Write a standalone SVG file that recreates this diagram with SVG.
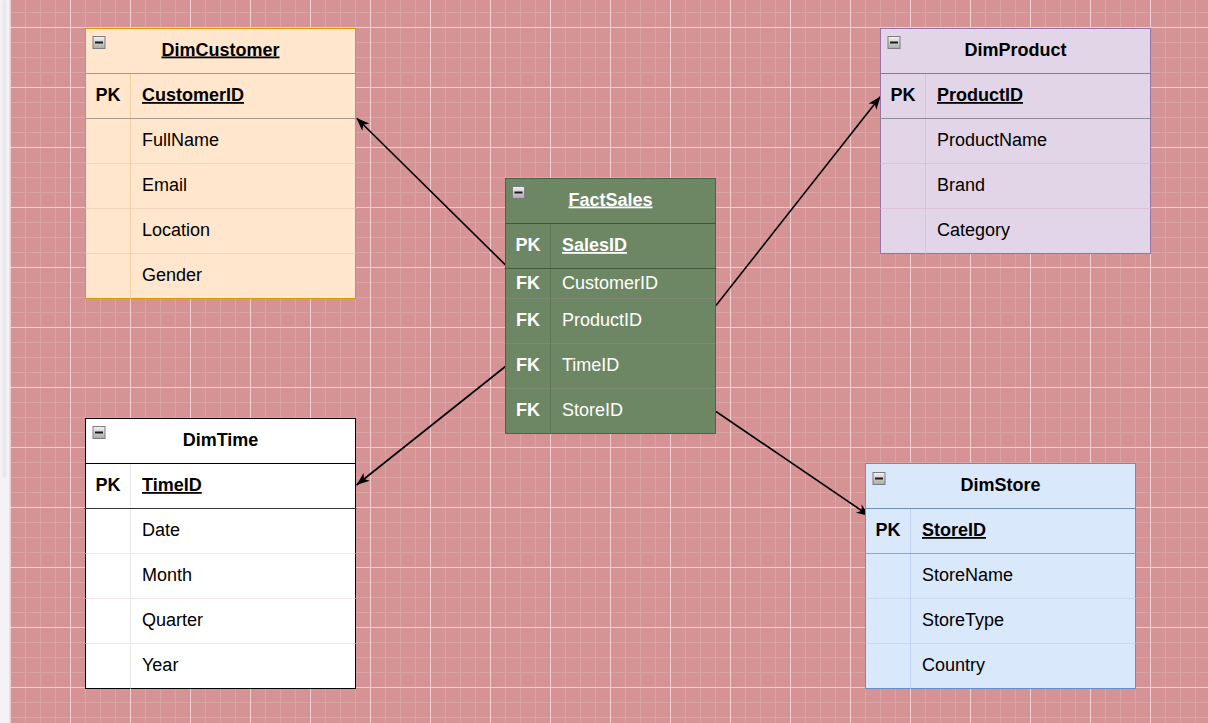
<svg xmlns="http://www.w3.org/2000/svg" xmlns:xlink="http://www.w3.org/1999/xlink" width="1208" height="723" viewBox="0 0 1208 723">
<style>
  text { font-family: "Liberation Sans", Arial, Helvetica, sans-serif; font-size: 18px; fill: #000; }
  .title { font-weight: bold; text-anchor: middle; }
  .ul { text-decoration: underline; }
  .key { font-weight: bold; text-anchor: middle; }
  .pkf { font-weight: bold; text-decoration: underline; }
  .fact text { fill: #ffffff; }
  .conn line { stroke: #000; stroke-width: 1.6; fill: none; marker-end: url(#arrow); }
</style>
<defs>
  <pattern id="grid" x="10" y="27" width="60" height="60" patternUnits="userSpaceOnUse">
    <rect width="60" height="60" fill="#d59396"/>
    <path d="M15.5 0V60M30.5 0V60M45.5 0V60M0 15.5H60M0 30.5H60M0 45.5H60" stroke="#dca3a5" stroke-width="1.2" fill="none"/>
    <path d="M0.5 0V60M0 0.5H60" stroke="#eed0d1" stroke-width="1" fill="none"/>
  </pattern>
  <linearGradient id="icongrad" x1="0" y1="0" x2="0" y2="1">
    <stop offset="0" stop-color="#f4f4f4"/>
    <stop offset="1" stop-color="#a9a9a9"/>
  </linearGradient>
  <g id="collapse">
    <rect x="0" y="0" width="12" height="12" fill="url(#icongrad)" stroke="#7d7d7d" stroke-width="1"/>
    <rect x="2" y="5" width="8" height="2" fill="#1a1a1a"/>
  </g>
  <marker id="arrow" viewBox="-14 -6 15 12" refX="0" refY="0" markerWidth="15" markerHeight="12" markerUnits="userSpaceOnUse" orient="auto">
    <path d="M0,0 L-13,-5 L-9.5,0 L-13,5 Z" fill="#000"/>
  </marker>
</defs>

<rect x="0" y="0" width="1208" height="723" fill="url(#grid)"/>
<rect x="0" y="0" width="10" height="723" fill="#f1f3f4"/>
<rect x="2.5" y="0" width="4" height="478" rx="2" fill="#e7e9ec"/>
<line x1="9.5" y1="0" x2="9.5" y2="723" stroke="#e2e3e5"/>

<g id="connectors" class="conn">
  <line x1="506" y1="265.5" x2="356.5" y2="118"/>
  <line x1="716" y1="305.5" x2="880.5" y2="96.5"/>
  <line x1="506" y1="366" x2="356.5" y2="485"/>
  <line x1="716" y1="411.5" x2="869.5" y2="516"/>
</g>

<g id="DimCustomer" transform="translate(85.5,28.5)">
  <rect x="0" y="0" width="270" height="270" fill="#ffe6cc" stroke="#d79b00"/>
  <path d="M0 135H270M0 180H270M0 225H270" stroke="#f3d4b8" fill="none"/>
  <path d="M45 45V270" stroke="#f5cf9f" fill="none"/>
  <path d="M0 45H270" stroke="#d79b00" fill="none"/>
  <path d="M-1 90H271" stroke="#a99b8c" fill="none"/>
  <use xlink:href="#collapse" x="7.5" y="8"/>
  <text class="title ul" x="135" y="27">DimCustomer</text>
  <text class="key" x="22.5" y="72.5">PK</text>
  <text class="pkf" x="56.5" y="72.5">CustomerID</text>
  <text x="56.5" y="117.5">FullName</text>
  <text x="56.5" y="162.5">Email</text>
  <text x="56.5" y="207.5">Location</text>
  <text x="56.5" y="252.5">Gender</text>
</g>

<g id="DimProduct" transform="translate(880.5,28.5)">
  <rect x="0" y="0" width="270" height="225" fill="#e1d5e7" stroke="#9673a6"/>
  <path d="M0 135H270M0 180H270" stroke="#dcc3d8" fill="none"/>
  <path d="M45 45V225" stroke="#d6c4de" fill="none"/>
  <path d="M0 45H270" stroke="#9673a6" fill="none"/>
  <path d="M-1 90H271" stroke="#8f8a96" fill="none"/>
  <use xlink:href="#collapse" x="7.5" y="8"/>
  <text class="title" x="135" y="27">DimProduct</text>
  <text class="key" x="22.5" y="72.5">PK</text>
  <text class="pkf" x="56.5" y="72.5">ProductID</text>
  <text x="56.5" y="117.5">ProductName</text>
  <text x="56.5" y="162.5">Brand</text>
  <text x="56.5" y="207.5">Category</text>
</g>

<g id="FactSales" class="fact" transform="translate(505.5,178.5)">
  <rect x="0" y="0" width="210" height="255" fill="#6d8764" stroke="#4b6443"/>
  <path d="M0 120H210M0 165H210M0 210H210" stroke="#7f8a74" fill="none"/>
  <path d="M45 45V255" stroke="#5d7655" fill="none"/>
  <path d="M0 45H210" stroke="#3f5836" fill="none"/>
  <path d="M-1 90H211" stroke="#46593e" fill="none"/>
  <use xlink:href="#collapse" x="7" y="8"/>
  <text class="title ul" x="105" y="27">FactSales</text>
  <text class="key" x="22.5" y="72.5">PK</text>
  <text class="pkf" x="56.5" y="72.5">SalesID</text>
  <text class="key" x="22.5" y="110">FK</text>
  <text x="56.5" y="110">CustomerID</text>
  <text class="key" x="22.5" y="147.5">FK</text>
  <text x="56.5" y="147.5">ProductID</text>
  <text class="key" x="22.5" y="192.5">FK</text>
  <text x="56.5" y="192.5">TimeID</text>
  <text class="key" x="22.5" y="237.5">FK</text>
  <text x="56.5" y="237.5">StoreID</text>
</g>

<g id="DimTime" transform="translate(85.5,418.5)">
  <rect x="0" y="0" width="270" height="270" fill="#ffffff" stroke="#000000"/>
  <path d="M0 135H270M0 180H270M0 225H270" stroke="#f3e3e5" fill="none"/>
  <path d="M45 45V270" stroke="#e6e6e6" fill="none"/>
  <path d="M0 45H270" stroke="#000000" fill="none"/>
  <path d="M-1 90H271" stroke="#333333" fill="none"/>
  <use xlink:href="#collapse" x="7.5" y="8"/>
  <text class="title" x="135" y="27">DimTime</text>
  <text class="key" x="22.5" y="72.5">PK</text>
  <text class="pkf" x="56.5" y="72.5">TimeID</text>
  <text x="56.5" y="117.5">Date</text>
  <text x="56.5" y="162.5">Month</text>
  <text x="56.5" y="207.5">Quarter</text>
  <text x="56.5" y="252.5">Year</text>
</g>

<g id="DimStore" transform="translate(865.5,463.5)">
  <rect x="0" y="0" width="270" height="225" fill="#dae8fc" stroke="#6c8ebf"/>
  <path d="M0 135H270M0 180H270" stroke="#cfd9ee" fill="none"/>
  <path d="M45 45V225" stroke="#c0d2ef" fill="none"/>
  <path d="M0 45H270" stroke="#6c8ebf" fill="none"/>
  <path d="M-1 90H271" stroke="#98a2b3" fill="none"/>
  <use xlink:href="#collapse" x="7.5" y="9"/>
  <text class="title" x="135" y="27">DimStore</text>
  <text class="key" x="22.5" y="72.5">PK</text>
  <text class="pkf" x="56.5" y="72.5">StoreID</text>
  <text x="56.5" y="117.5">StoreName</text>
  <text x="56.5" y="162.5">StoreType</text>
  <text x="56.5" y="207.5">Country</text>
</g>
</svg>
